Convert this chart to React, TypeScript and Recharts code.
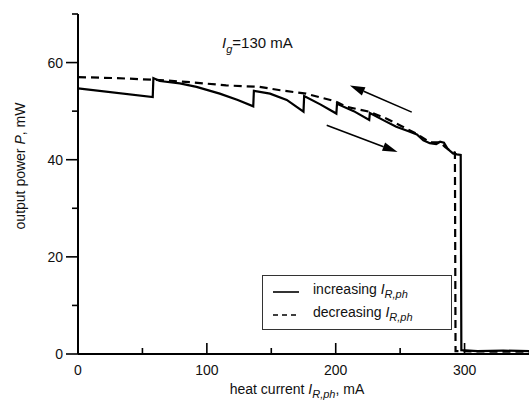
import React from 'react';
import { LineChart, Line, XAxis, YAxis, ReferenceLine, Legend, Customized } from 'recharts';

// heat current (mA) and output power (mW), increasing sweep
const incCurrent = [0, 58, 58.5, 63.5, 79, 92, 110, 124, 136, 136.5, 149, 162, 175, 175.5, 188, 200.5, 201, 214, 226, 226.5, 238, 247, 256, 263, 268, 273, 278, 281, 284, 287, 291, 294, 297, 297.5, 310, 330, 350];
const incPower = [54.7, 52.9, 56.8, 56.2, 55.7, 55.0, 53.6, 52.3, 51.0, 54.2, 53.6, 52.3, 49.9, 53.1, 51.4, 49.5, 51.5, 50.0, 48.2, 49.6, 48.0, 46.8, 45.9, 45.2, 44.0, 43.4, 43.2, 43.7, 43.5, 42.2, 41.3, 41.1, 41.0, 0.8, 0.6, 0.7, 0.6];

// decreasing sweep
const decCurrent = [0, 30, 63.5, 90, 115, 141, 157, 177, 200, 208, 226, 240, 252, 263, 273, 281, 285, 289, 292.5, 293, 320, 350];
const decPower = [57.0, 56.8, 56.4, 55.9, 55.3, 55.0, 54.3, 53.6, 52.0, 50.9, 49.9, 48.4, 46.8, 45.3, 43.6, 43.6, 42.6, 41.8, 41.5, 0.6, 0.5, 0.5];

const xTicks = [0, 50, 100, 150, 200, 250, 300];
const yTicks = [0, 10, 20, 30, 40, 50, 60, 70];

// arrows: [tail, head]
const upArrow = [{ x: 259, y: 49.8 }, { x: 211, y: 55.3 }];
const downArrow = [{ x: 193, y: 47.1 }, { x: 248, y: 41.6 }];

const FONT = '"Liberation Sans", Arial, Helvetica, sans-serif';

const incData = incCurrent.map((i, k) => ({ i, p: incPower[k] }));
const decData = decCurrent.map((i, k) => ({ i, p: decPower[k] }));

const XTick = (props: any) => {
  const { x, y, payload } = props;
  const major = payload.value % 100 === 0;
  return (
    <g>
      <line x1={x} x2={x} y1={y} y2={y - (major ? 11 : 6)} stroke="#000" strokeWidth={1.6} />
      {major && (
        <text x={x} y={y + 21} textAnchor="middle" fontFamily={FONT} fontSize={14} fill="#111">
          {payload.value}
        </text>
      )}
    </g>
  );
};

const YTick = (props: any) => {
  const { x, y, payload } = props;
  const major = payload.value % 20 === 0;
  return (
    <g>
      <line x1={x} x2={x - (major ? 12 : 6)} y1={y} y2={y} stroke="#000" strokeWidth={1.6} />
      {major && (
        <text x={x - 15} y={y + 5} textAnchor="end" fontFamily={FONT} fontSize={14} fill="#111">
          {payload.value}
        </text>
      )}
    </g>
  );
};

const Arrow = (props: any) => {
  const { x1, y1, x2, y2 } = props;
  const dx = x2 - x1;
  const dy = y2 - y1;
  const len = Math.sqrt(dx * dx + dy * dy);
  const ux = dx / len;
  const uy = dy / len;
  const hl = 15;
  const hw = 4.5;
  const bx = x2 - ux * hl;
  const by = y2 - uy * hl;
  return (
    <g>
      <line x1={x1} y1={y1} x2={bx} y2={by} stroke="#000" strokeWidth={1.6} />
      <polygon
        points={`${x2},${y2} ${bx - uy * hw},${by + ux * hw} ${bx + uy * hw},${by - ux * hw}`}
        fill="#000"
      />
    </g>
  );
};

const Annotations = () => (
  <g fontFamily={FONT} fill="#111">
    <text x={222} y={48} fontSize={15}>
      <tspan fontStyle="italic">I</tspan>
      <tspan fontStyle="italic" fontSize={11} dy={5}>g</tspan>
      <tspan dy={-5}>=130 mA</tspan>
    </text>
    <text x={297} y={394} fontSize={14} textAnchor="middle">
      <tspan>heat current </tspan>
      <tspan fontStyle="italic">I</tspan>
      <tspan fontStyle="italic" fontSize={11} dy={4}>R,ph</tspan>
      <tspan dy={-4}>, mA</tspan>
    </text>
    <text transform="translate(25,166) rotate(-90)" fontSize={14} textAnchor="middle">
      <tspan>output power </tspan>
      <tspan fontStyle="italic">P</tspan>
      <tspan>, mW</tspan>
    </text>
  </g>
);

const LegendBox = () => {
  const row = (dash: string | undefined, label: string) => (
    <div style={{ display: 'flex', alignItems: 'center', height: 23 }}>
      <svg width={44} height={10} style={{ display: 'block' }}>
        <line x1={10} x2={36} y1={5} y2={5} stroke="#000" strokeWidth={1.6} strokeDasharray={dash} />
      </svg>
      <span style={{ marginLeft: 6 }}>
        {label} <i>I</i>
        <sub style={{ fontSize: 11, fontStyle: 'italic', verticalAlign: -4 }}>R,ph</sub>
      </span>
    </div>
  );
  return (
    <div
      style={{
        width: 190,
        height: 55,
        boxSizing: 'border-box',
        border: '1px solid #333',
        background: '#fff',
        fontFamily: FONT,
        fontSize: 14,
        color: '#111',
        paddingTop: 4,
        lineHeight: '16px',
      }}
    >
      {row(undefined, 'increasing')}
      {row('5 4', 'decreasing')}
    </div>
  );
};

export default function App() {
  return (
    <div style={{ position: 'absolute', left: 0, top: 0, background: '#fff' }}>
      <LineChart width={529} height={411} margin={{ top: 14, right: 0, bottom: 0, left: 0 }}>
        <XAxis
          dataKey="i"
          type="number"
          domain={[0, 350]}
          ticks={xTicks}
          height={57}
          tickSize={0}
          tickMargin={0}
          tick={<XTick />}
          axisLine={{ stroke: '#000', strokeWidth: 2 }}
          allowDuplicatedCategory={false}
        />
        <YAxis
          dataKey="p"
          type="number"
          domain={[0, 70]}
          ticks={yTicks}
          width={78}
          tickSize={0}
          tickMargin={0}
          tick={<YTick />}
          axisLine={{ stroke: '#000', strokeWidth: 2 }}
        />
        <Line
          data={incData}
          dataKey="p"
          name="increasing"
          type="linear"
          stroke="#000"
          strokeWidth={2.2}
          dot={false}
          isAnimationActive={false}
        />
        <Line
          data={decData}
          dataKey="p"
          name="decreasing"
          type="linear"
          stroke="#000"
          strokeWidth={2.2}
          strokeDasharray="8 5"
          dot={false}
          isAnimationActive={false}
        />
        <ReferenceLine segment={upArrow} shape={<Arrow />} />
        <ReferenceLine segment={downArrow} shape={<Arrow />} />
        <Customized component={<Annotations />} />
        <Legend
          layout="vertical"
          align="center"
          verticalAlign="middle"
          content={<LegendBox />}
          wrapperStyle={{ left: 262, top: 275, width: 190, height: 55 }}
        />
      </LineChart>
    </div>
  );
}
